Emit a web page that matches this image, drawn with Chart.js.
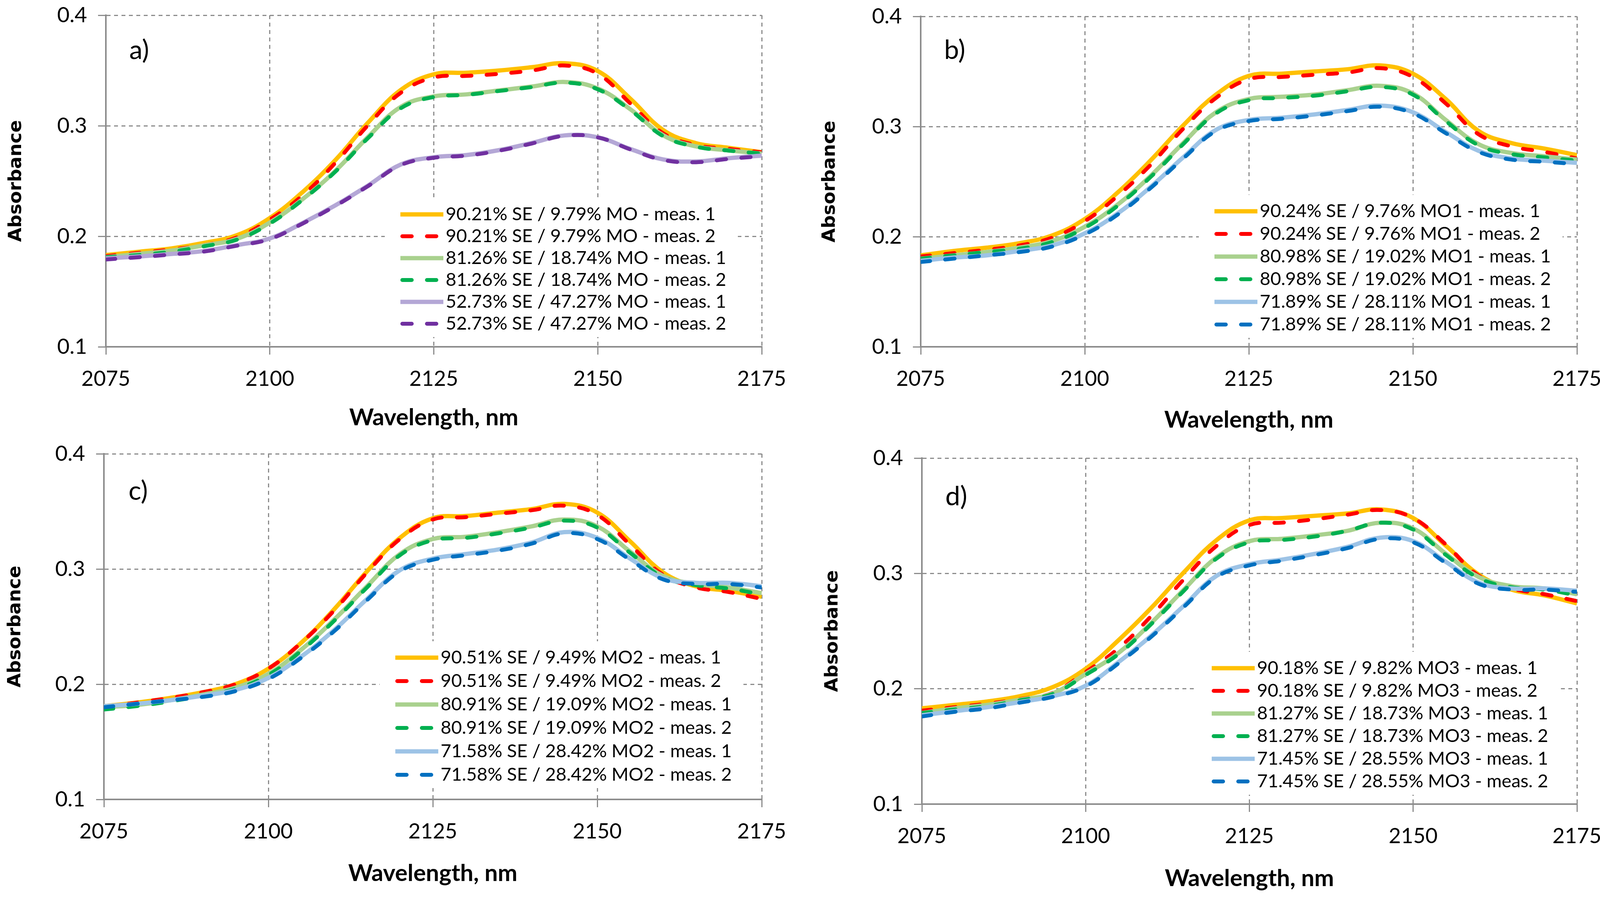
<!DOCTYPE html>
<html>
<head>
<meta charset="utf-8">
<title>Absorbance spectra a-d</title>
<script src="https://cdn.jsdelivr.net/npm/chart.js@4.4.1/dist/chart.umd.min.js"></script>
<style>
  html, body { margin: 0; padding: 0; background: #fff; }
  body { width: 4121px; height: 2302px; position: relative; overflow: hidden; }
  .panel { position: absolute; }
  #pa { left: 0; top: 0; width: 2060px; height: 1150px; }
  #pb { left: 2060px; top: 0; width: 2061px; height: 1150px; }
  /* lower panels start a little higher so the top tick label is not cut */
  #pc { left: 0; top: 1100px; width: 2060px; height: 1202px; }
  #pd { left: 2060px; top: 1100px; width: 2061px; height: 1202px; }
</style>
</head>
<body>
<div class="panel" id="pa"><canvas id="chartA"></canvas></div>
<div class="panel" id="pb"><canvas id="chartB"></canvas></div>
<div class="panel" id="pc"><canvas id="chartC"></canvas></div>
<div class="panel" id="pd"><canvas id="chartD"></canvas></div>
<script>
const wavelengths = [2075, 2080, 2085, 2090, 2095, 2100, 2105, 2110, 2115, 2120, 2125,
                     2130, 2135, 2140, 2145, 2150, 2155, 2160, 2165, 2170, 2175];
const xTicks = [2075, 2100, 2125, 2150, 2175];
const yTicks = [0.1, 0.2, 0.3, 0.4];

// a) SE / MO
const aLabels = ['90.21% SE / 9.79% MO - meas. 1', '90.21% SE / 9.79% MO - meas. 2',
                 '81.26% SE / 18.74% MO - meas. 1', '81.26% SE / 18.74% MO - meas. 2',
                 '52.73% SE / 47.27% MO - meas. 1', '52.73% SE / 47.27% MO - meas. 2'];
const a_90_m1 = [0.183,0.186,0.189,0.194,0.201,0.2165,0.240,0.269,0.303,0.3325,0.3465,0.348,0.350,0.353,0.3565,0.3495,0.3243,0.296,0.2842,0.280,0.276];
const a_90_m2 = [0.182,0.185,0.188,0.192,0.199,0.215,0.237,0.2665,0.3007,0.330,0.3437,0.3451,0.347,0.350,0.3545,0.347,0.320,0.293,0.2825,0.279,0.276];
const a_81_m1 = [0.181,0.184,0.187,0.1918,0.1977,0.2124,0.2336,0.2592,0.290,0.3172,0.3266,0.3284,0.332,0.3355,0.3396,0.3337,0.3148,0.2913,0.2813,0.2777,0.2748];
const a_81_m2 = [0.181,0.183,0.186,0.191,0.197,0.2115,0.233,0.2585,0.289,0.316,0.326,0.328,0.3315,0.335,0.339,0.333,0.314,0.2905,0.281,0.2775,0.2748];
const a_52_m1 = [0.180,0.1817,0.184,0.1867,0.192,0.198,0.212,0.228,0.246,0.265,0.2715,0.2735,0.278,0.2845,0.2913,0.2895,0.2789,0.2695,0.2677,0.2707,0.273];
const a_52_m2 = [0.179,0.181,0.1835,0.1862,0.1915,0.1975,0.2115,0.2275,0.2455,0.2645,0.271,0.273,0.2775,0.284,0.291,0.2895,0.2785,0.269,0.267,0.270,0.2725];

// b) SE / MO1
const bLabels = ['90.24% SE / 9.76% MO1 - meas. 1', '90.24% SE / 9.76% MO1 - meas. 2',
                 '80.98% SE / 19.02% MO1 - meas. 1', '80.98% SE / 19.02% MO1 - meas. 2',
                 '71.89% SE / 28.11% MO1 - meas. 1', '71.89% SE / 28.11% MO1 - meas. 2'];
const b_90_m1 = [0.183,0.187,0.190,0.194,0.201,0.216,0.240,0.269,0.301,0.329,0.346,0.348,0.350,0.352,0.3555,0.348,0.325,0.296,0.285,0.280,0.274];
const b_90_m2 = [0.182,0.185,0.188,0.192,0.199,0.214,0.237,0.265,0.298,0.326,0.343,0.345,0.347,0.349,0.353,0.345,0.321,0.293,0.282,0.277,0.271];
const b_80_m1 = [0.180,0.183,0.186,0.190,0.196,0.209,0.229,0.255,0.285,0.313,0.325,0.327,0.329,0.333,0.337,0.330,0.306,0.284,0.276,0.273,0.270];
const b_80_m2 = [0.180,0.183,0.186,0.189,0.195,0.208,0.228,0.254,0.284,0.312,0.324,0.326,0.328,0.332,0.336,0.329,0.305,0.283,0.275,0.272,0.269];
const b_71_m1 = [0.178,0.181,0.183,0.187,0.192,0.203,0.221,0.245,0.272,0.297,0.306,0.308,0.311,0.315,0.319,0.313,0.295,0.278,0.271,0.269,0.267];
const b_71_m2 = [0.177,0.180,0.183,0.186,0.191,0.202,0.220,0.244,0.271,0.296,0.305,0.307,0.310,0.314,0.318,0.312,0.294,0.277,0.270,0.268,0.266];

// c) SE / MO2
const cLabels = ['90.51% SE / 9.49% MO2 - meas. 1', '90.51% SE / 9.49% MO2 - meas. 2',
                 '80.91% SE / 19.09% MO2 - meas. 1', '80.91% SE / 19.09% MO2 - meas. 2',
                 '71.58% SE / 28.42% MO2 - meas. 1', '71.58% SE / 28.42% MO2 - meas. 2'];
const c_90_m1 = [0.181,0.184,0.188,0.193,0.200,0.2135,0.236,0.265,0.298,0.327,0.344,0.346,0.349,0.352,0.3565,0.349,0.324,0.297,0.285,0.281,0.276];
const c_90_m2 = [0.180,0.184,0.188,0.193,0.200,0.2135,0.236,0.264,0.297,0.326,0.343,0.345,0.348,0.351,0.355,0.347,0.321,0.295,0.284,0.280,0.274];
const c_80_m1 = [0.180,0.182,0.186,0.191,0.197,0.209,0.230,0.256,0.285,0.313,0.326,0.328,0.332,0.337,0.343,0.337,0.315,0.294,0.287,0.284,0.279];
const c_80_m2 = [0.178,0.181,0.185,0.190,0.196,0.208,0.229,0.255,0.284,0.312,0.325,0.327,0.331,0.336,0.342,0.336,0.314,0.293,0.286,0.283,0.278];
const c_71_m1 = [0.181,0.183,0.186,0.190,0.195,0.2055,0.224,0.247,0.274,0.299,0.309,0.313,0.317,0.323,0.332,0.327,0.309,0.292,0.288,0.288,0.285];
const c_71_m2 = [0.180,0.183,0.186,0.189,0.194,0.2045,0.223,0.246,0.273,0.298,0.308,0.312,0.316,0.322,0.331,0.326,0.308,0.291,0.287,0.287,0.284];

// d) SE / MO3
const dLabels = ['90.18% SE / 9.82% MO3 - meas. 1', '90.18% SE / 9.82% MO3 - meas. 2',
                 '81.27% SE / 18.73% MO3 - meas. 1', '81.27% SE / 18.73% MO3 - meas. 2',
                 '71.45% SE / 28.55% MO3 - meas. 1', '71.45% SE / 28.55% MO3 - meas. 2'];
const d_90_m1 = [0.183,0.186,0.189,0.1936,0.2015,0.2173,0.242,0.270,0.301,0.329,0.346,0.348,0.350,0.352,0.3555,0.348,0.324,0.299,0.286,0.281,0.274];
const d_90_m2 = [0.181,0.184,0.187,0.191,0.1965,0.2145,0.235,0.263,0.295,0.324,0.342,0.344,0.347,0.351,0.355,0.348,0.325,0.298,0.287,0.282,0.276];
const d_81_m1 = [0.179,0.183,0.186,0.1905,0.196,0.2128,0.231,0.257,0.286,0.314,0.328,0.330,0.333,0.337,0.344,0.339,0.317,0.297,0.289,0.287,0.282];
const d_81_m2 = [0.179,0.182,0.185,0.190,0.1955,0.212,0.230,0.256,0.285,0.313,0.327,0.329,0.332,0.337,0.344,0.338,0.316,0.296,0.288,0.286,0.281];
const d_71_m1 = [0.177,0.1806,0.184,0.1885,0.1936,0.2026,0.223,0.246,0.272,0.298,0.308,0.312,0.317,0.323,0.331,0.328,0.310,0.292,0.287,0.287,0.285];
const d_71_m2 = [0.176,0.180,0.183,0.188,0.193,0.202,0.222,0.245,0.271,0.297,0.307,0.311,0.316,0.322,0.330,0.327,0.309,0.291,0.286,0.286,0.284];

// line colours (solid = meas. 1, dashed = meas. 2)
const colorsPurple = ['#FFC000', '#FF0000', '#A9D18E', '#00B050', '#B4A7D6', '#7030A0'];
const colorsBlue   = ['#FFC000', '#FF0000', '#A9D18E', '#00B050', '#9DC3E6', '#0070C0'];

const GRID = '#8C8C8C';

// draws the panel tag "a)" and the boxed legend inside the plot area
const panelDecor = {
  id: 'panelDecor',
  afterDatasetsDraw(chart, args, opts) {
    const { ctx, chartArea } = chart;
    const sets = chart.data.datasets;
    ctx.save();

    ctx.font = '47px Lato';
    let maxW = 0;
    sets.forEach(ds => { maxW = Math.max(maxW, ctx.measureText(ds.label).width); });
    const x0 = chartArea.left + opts.legendX;
    const y0 = chartArea.top + opts.legendY;
    const sample = 110, gap = 6;

    // white box hides the grid behind the legend
    ctx.fillStyle = '#fff';
    ctx.fillRect(x0 - 40, y0 - 42, sample + gap + maxW + 70, (sets.length - 1) * opts.step + 76);

    sets.forEach((ds, i) => {
      const y = y0 + i * opts.step;
      ctx.strokeStyle = ds.borderColor;
      ctx.lineWidth = ds.borderWidth;
      ctx.lineCap = ds.borderDash.length ? 'round' : 'butt';
      ctx.setLineDash(ds.borderDash);
      ctx.beginPath();
      ctx.moveTo(x0 + (ds.borderDash.length ? 5 : 0), y);
      ctx.lineTo(x0 + sample, y);
      ctx.stroke();
      ctx.setLineDash([]);
      ctx.fillStyle = '#000';
      ctx.textBaseline = 'middle';
      ctx.textAlign = 'left';
      ctx.fillText(ds.label, x0 + sample + gap, y);
    });

    ctx.font = '68px Lato';
    ctx.fillStyle = '#000';
    ctx.textBaseline = 'middle';
    ctx.fillText(opts.tag, chartArea.left + opts.tagX, chartArea.top + opts.tagY);
    ctx.restore();
  }
};

const panels = [
  { canvas: 'chartA', tag: 'a)', names: aLabels, colors: colorsPurple,
    series: [a_90_m1, a_90_m2, a_81_m1, a_81_m2, a_52_m1, a_52_m2],
    yWidth: 271, xHeight: 262, padTop: 39, padRight: 110, yTitlePad: 14, xTitlePad: 44,
    legendX: 754, legendY: 510, step: 56, tagX: 60, tagY: 90 },
  { canvas: 'chartB', tag: 'b)', names: bLabels, colors: colorsBlue,
    series: [b_90_m1, b_90_m2, b_80_m1, b_80_m2, b_71_m1, b_71_m2],
    yWidth: 297, xHeight: 262, padTop: 42, padRight: 84, yTitlePad: 37, xTitlePad: 38,
    legendX: 752, legendY: 499, step: 58, tagX: 60, tagY: 87 },
  { canvas: 'chartC', tag: 'c)', names: cLabels, colors: colorsBlue,
    series: [c_90_m1, c_90_m2, c_80_m1, c_80_m2, c_71_m1, c_71_m2],
    yWidth: 266, xHeight: 255, padTop: 62, padRight: 110, yTitlePad: 12, xTitlePad: 29,
    legendX: 746, legendY: 522, step: 60, tagX: 63, tagY: 96 },
  { canvas: 'chartD', tag: 'd)', names: dLabels, colors: colorsBlue,
    series: [d_90_m1, d_90_m2, d_81_m1, d_81_m2, d_71_m1, d_71_m2],
    yWidth: 300, xHeight: 243, padTop: 73, padRight: 84, yTitlePad: 44, xTitlePad: 16,
    legendX: 742, legendY: 538, step: 58, tagX: 60, tagY: 99 }
];

function buildChart(p) {
  const datasets = p.series.map((vals, i) => {
    const dashed = i % 2 === 1;
    return {
      label: p.names[i],
      data: vals.map((v, k) => ({ x: wavelengths[k], y: v })),
      borderColor: p.colors[i],
      borderWidth: dashed ? 10 : 11,
      borderDash: dashed ? [24, 39] : [],
      borderCapStyle: dashed ? 'round' : 'butt',
      tension: 0.4,
      pointRadius: 0,
      fill: false,
      order: 6 - i // later series on top, like the original
    };
  });

  new Chart(document.getElementById(p.canvas), {
    type: 'line',
    data: { datasets },
    plugins: [panelDecor],
    options: {
      responsive: true,
      maintainAspectRatio: false,
      devicePixelRatio: 1,
      animation: false,
      layout: { padding: { top: p.padTop, right: p.padRight, left: 0, bottom: 0 } },
      plugins: {
        legend: { display: false },
        tooltip: { enabled: false },
        panelDecor: { tag: p.tag, legendX: p.legendX, legendY: p.legendY, step: p.step, tagX: p.tagX, tagY: p.tagY }
      },
      scales: {
        x: {
          type: 'linear', min: 2075, max: 2175,
          afterFit(s) { s.height = p.xHeight; s.paddingLeft = 0; s.paddingRight = 0; },
          afterBuildTicks(s) { s.ticks = xTicks.map(v => ({ value: v })); },
          ticks: { font: { size: 54 }, color: '#000', padding: 30, callback: v => String(v) },
          grid: { color: GRID, lineWidth: 3, tickLength: 20, tickColor: GRID, tickWidth: 3 },
          border: { color: GRID, width: 4, dash: [10, 9] },
          title: { display: true, text: 'Wavelength, nm', color: '#000',
                   font: { size: 60, weight: 'bold' }, padding: { top: 0, bottom: p.xTitlePad } }
        },
        y: {
          min: 0.1, max: 0.4,
          afterFit(s) { s.width = p.yWidth; s.paddingTop = 0; s.paddingBottom = 0; },
          afterBuildTicks(s) { s.ticks = yTicks.map(v => ({ value: v })); },
          ticks: { font: { size: 55 }, color: '#000', padding: 28, callback: v => v.toFixed(1) },
          grid: { color: GRID, lineWidth: 3, tickLength: 20, tickColor: GRID, tickWidth: 3 },
          border: { color: GRID, width: 4, dash: [10, 9] },
          title: { display: true, text: 'Absorbance', color: '#000',
                   font: { family: 'DejaVu Sans', size: 47, weight: 'bold' }, padding: { top: p.yTitlePad, bottom: 0 } }
        }
      }
    }
  });
}

Chart.defaults.font.family = 'Lato';
Promise.all([document.fonts.load('54px Lato'), document.fonts.load('bold 60px Lato'),
             document.fonts.load('bold 47px "DejaVu Sans"')])
  .catch(() => {})
  .then(() => panels.forEach(buildChart));
</script>
</body>
</html>
